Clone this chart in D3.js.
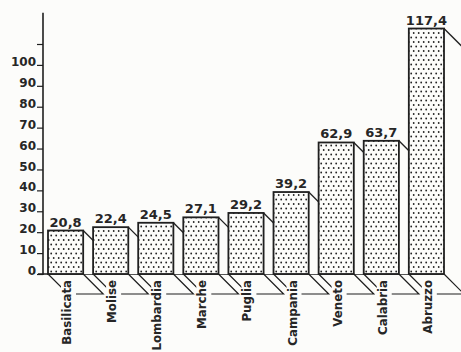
<!DOCTYPE html>
<html>
<head>
<meta charset="utf-8">
<script src="https://cdn.jsdelivr.net/npm/d3@7"></script>
<style>
  html, body { margin: 0; padding: 0; background: #fcfcfa; }
  svg { display: block; }
  text { font-family: "DejaVu Sans", sans-serif; font-weight: bold; fill: #262626; }
</style>
</head>
<body>
<script>
// ---- data ----
const categories = ["Basilicata", "Molise", "Lombardia", "Marche", "Puglia", "Campania", "Veneto", "Calabria", "Abruzzo"];
const values = [20.8, 22.4, 24.5, 27.1, 29.2, 39.2, 62.9, 63.7, 117.4];
const yTickValues = [0, 10, 20, 30, 40, 50, 60, 70, 80, 90, 100, 110];
const yTickLabels = ["0", "10", "20", "30", "40", "50", "60", "70", "80", "90", "100", ""];

// ---- layout ----
const W = 461, H = 352;
const bg = "#fcfcfa", ink = "#1f1f1f";
const depth = 20;

const svg = d3.select("body").append("svg").attr("width", W).attr("height", H);
svg.append("rect").attr("width", W).attr("height", H).attr("fill", bg);

const defs = svg.append("defs");
const pat = defs.append("pattern").attr("id", "dots")
  .attr("patternUnits", "userSpaceOnUse").attr("width", 5).attr("height", 9);
pat.append("rect").attr("width", 5).attr("height", 9).attr("fill", bg);
pat.append("circle").attr("cx", 1.2).attr("cy", 1.5).attr("r", 0.9).attr("fill", "#222");
pat.append("circle").attr("cx", 3.7).attr("cy", 6).attr("r", 0.9).attr("fill", "#222");

const x = d3.scaleBand().domain(categories).range([48, 444]).paddingInner(0.22).paddingOuter(0);
const y = d3.scaleLinear().domain([0, 110]).range([274, 44]);
const base = y(0);

const fmt = d3.formatLocale({decimal: ",", thousands: ".", grouping: [3], currency: ["", ""]}).format(".1f");

// baseline
svg.append("line").attr("x1", 38).attr("x2", x(categories[categories.length - 1]) + x.bandwidth())
  .attr("y1", base).attr("y2", base).attr("stroke", ink).attr("stroke-width", 1.6);

// y axis
const axisX = 43;
const axis = d3.axisLeft(y).tickValues(yTickValues)
  .tickFormat((d, i) => yTickLabels[i]).tickSize(6).tickPadding(1).tickSizeOuter(0);
const gAxis = svg.append("g").attr("transform", `translate(${axisX},0)`).call(axis);
gAxis.select(".domain").remove();
gAxis.selectAll(".tick line").attr("stroke", ink).attr("stroke-width", 1.2);
gAxis.selectAll(".tick text").attr("font-size", 12).attr("dy", "0.05em")
  .attr("font-family", "DejaVu Sans").attr("font-weight", "bold").attr("fill", "#262626");
svg.append("line").attr("x1", axisX).attr("x2", axisX)
  .attr("y1", y(125)).attr("y2", base + 1).attr("stroke", ink).attr("stroke-width", 1.6);

// bars
const gBars = svg.append("g");
categories.forEach((c, i) => {
  const l = x(c), r = l + x.bandwidth(), top = y(values[i]);
  const g = gBars.append("g");
  // side face (fill) + top diagonal
  g.append("path")
    .attr("d", `M${r},${top}L${r + depth},${top + depth}L${r + depth},${base}L${r},${base}Z`)
    .attr("fill", bg);
  g.append("line").attr("x1", r).attr("y1", top).attr("x2", r + depth).attr("y2", top + depth)
    .attr("stroke", ink).attr("stroke-width", 1.3);
  // floor
  g.append("path")
    .attr("d", `M${l},${base}L${l + depth},${base + depth}L${r + depth},${base + depth}L${r},${base}`)
    .attr("fill", "none").attr("stroke", ink).attr("stroke-width", 1.2);
  // front face
  g.append("rect").attr("x", l).attr("y", top).attr("width", x.bandwidth()).attr("height", base - top)
    .attr("fill", "url(#dots)").attr("stroke", ink).attr("stroke-width", 1.8);
  // value label
  g.append("text").attr("x", l + x.bandwidth() / 2).attr("y", top - 4)
    .attr("text-anchor", "middle").attr("font-size", 13).text(fmt(values[i]));
});

// category labels (with knock-out background)
categories.forEach((c) => {
  const l = x(c);
  const g = svg.append("g").attr("transform", `translate(${l + 23},${base + 6}) rotate(-90)`);
  const t = g.append("text").attr("text-anchor", "end").attr("font-size", 11.8).text(c);
  const bb = t.node().getBBox();
  g.insert("rect", "text").attr("x", bb.x - 2).attr("y", bb.y + 1).attr("width", bb.width + 4)
    .attr("height", bb.height + 1).attr("fill", bg);
});
</script>
</body>
</html>
